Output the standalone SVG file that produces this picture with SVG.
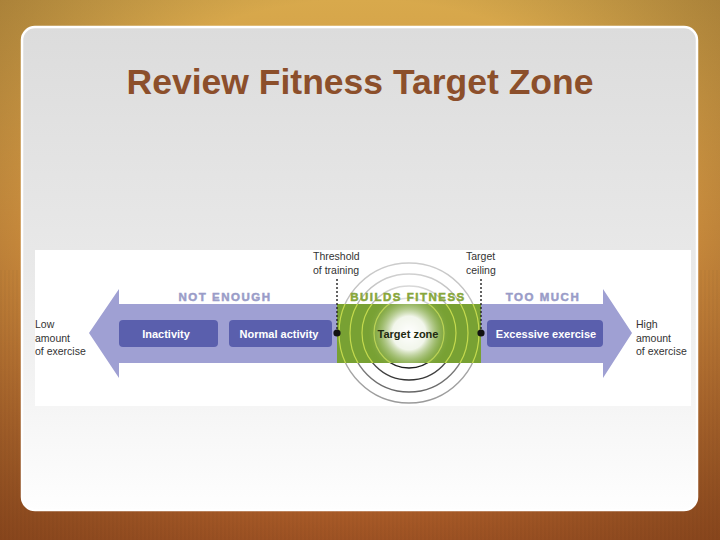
<svg xmlns="http://www.w3.org/2000/svg" width="720" height="540" viewBox="0 0 720 540">
<defs>
<linearGradient id="bg" x1="0" y1="0" x2="0" y2="1">
<stop offset="0" stop-color="#d8a94c"/>
<stop offset="0.45" stop-color="#c98a3c"/>
<stop offset="1" stop-color="#b05c28"/>
</linearGradient>
<radialGradient id="vig" cx="0.5" cy="0.45" r="0.75">
<stop offset="0.6" stop-color="#000" stop-opacity="0"/>
<stop offset="1" stop-color="#3a1a05" stop-opacity="0.35"/>
</radialGradient>
<pattern id="tex" width="4" height="4" patternUnits="userSpaceOnUse">
<rect width="2" height="4" fill="#000" opacity="0.025"/>
</pattern>
<linearGradient id="panel" x1="0" y1="0" x2="0" y2="1">
<stop offset="0" stop-color="#dcdcdc"/>
<stop offset="0.5" stop-color="#e9e9e9"/>
<stop offset="1" stop-color="#fefefe"/>
</linearGradient>
<radialGradient id="glow" cx="409" cy="333" r="42" gradientUnits="userSpaceOnUse">
<stop offset="0" stop-color="#ffffff"/>
<stop offset="0.4" stop-color="#ffffff" stop-opacity="0.9"/>
<stop offset="1" stop-color="#78a133" stop-opacity="0"/>
</radialGradient>
<linearGradient id="r1" x1="0" y1="0" x2="0" y2="1"><stop offset="0" stop-color="#e0e0e0"/><stop offset="1" stop-color="#1a1a1a"/></linearGradient>
<linearGradient id="r2" x1="0" y1="0" x2="0" y2="1"><stop offset="0" stop-color="#d8d8d8"/><stop offset="1" stop-color="#333"/></linearGradient>
<linearGradient id="r3" x1="0" y1="0" x2="0" y2="1"><stop offset="0" stop-color="#d0d0d0"/><stop offset="1" stop-color="#666"/></linearGradient>
<linearGradient id="r4" x1="0" y1="0" x2="0" y2="1"><stop offset="0" stop-color="#cccccc"/><stop offset="1" stop-color="#9a9a9a"/></linearGradient>
<clipPath id="greenclip"><rect x="337" y="304" width="144" height="59"/></clipPath>
<style>
.lbl{font-family:"Liberation Sans",Arial,sans-serif;font-size:10.5px;fill:#333}
.zone{font-family:"Liberation Sans",Arial,sans-serif;font-size:11.5px;font-weight:bold;letter-spacing:1.5px;text-anchor:middle;stroke-width:0.5px}
.box{fill:#5a5fad}
.boxt{font-family:"Liberation Sans",Arial,sans-serif;font-size:11px;font-weight:bold;fill:#fff;text-anchor:middle}
.ring{fill:none;stroke-width:1.4}
.gring{fill:none;stroke:#c4da4e;stroke-width:1.2}
.dot{fill:#111}
.dash{stroke:#222;stroke-width:1.4;stroke-dasharray:2 2;fill:none}
</style>
</defs>

<rect width="720" height="540" fill="url(#bg)"/>
<rect y="270" width="720" height="270" fill="url(#tex)"/>
<rect width="720" height="540" fill="url(#vig)"/>

<rect x="22" y="27" width="675" height="483" rx="13" fill="url(#panel)" stroke="#ffffff" stroke-width="2.5"/>
<text x="360" y="94" text-anchor="middle" font-family="Liberation Sans, Arial, sans-serif" font-size="35.5" font-weight="bold" fill="#8c4f2b">Review Fitness Target Zone</text>

<rect x="35" y="250" width="656" height="156" fill="#ffffff"/>

<g id="connectors">
<polygon id="axis-arrow" points="89,333 119,289 119,304 603,304 603,289 632,333 603,378 603,363 119,363 119,378" fill="#9fa0d3"/>
</g>

<g id="builds-fitness-zone">
<g id="rings">
<circle class="ring" cx="409" cy="333" r="35" stroke="url(#r1)"/>
<circle class="ring" cx="409" cy="333" r="47" stroke="url(#r2)"/>
<circle class="ring" cx="409" cy="333" r="59" stroke="url(#r3)"/>
<circle class="ring" cx="409" cy="333" r="70" stroke="url(#r4)"/>
</g>
<rect x="337" y="304" width="144" height="59" fill="#78a133"/>
<g clip-path="url(#greenclip)">
<circle class="gring" cx="409" cy="333" r="35"/>
<circle class="gring" cx="409" cy="333" r="47"/>
<circle class="gring" cx="409" cy="333" r="59"/>
<circle class="gring" cx="409" cy="333" r="70"/>
<rect x="337" y="304" width="144" height="59" fill="url(#glow)"/>
</g>
<text class="zone" x="408" y="301" fill="#87a63a" stroke="#87a63a">BUILDS FITNESS</text>
</g>

<g id="zone-labels">
<text class="zone" x="225" y="301" fill="#9a9cc8" stroke="#9a9cc8">NOT ENOUGH</text>
<text class="zone" x="543" y="301" fill="#9a9cc8" stroke="#9a9cc8">TOO MUCH</text>
</g>

<g id="inactivity">
<rect class="box" x="119" y="320" width="99" height="27" rx="4"/>
<text class="boxt" x="166" y="337.5">Inactivity</text>
</g>
<g id="normal-activity">
<rect class="box" x="229" y="320" width="103" height="27" rx="4"/>
<text class="boxt" x="279" y="337.5">Normal activity</text>
</g>
<g id="target-zone">
<text x="408" y="337.5" text-anchor="middle" font-family="Liberation Sans, Arial, sans-serif" font-size="11" font-weight="bold" fill="#1e2a10">Target zone</text>
</g>
<g id="excessive-exercise">
<rect class="box" x="487" y="320" width="116" height="27" rx="4"/>
<text class="boxt" x="546" y="337.5">Excessive exercise</text>
</g>

<g id="threshold">
<line class="dash" x1="337" y1="279" x2="337" y2="333"/>
<circle class="dot" cx="337" cy="333" r="3.6"/>
<text class="lbl" x="313" y="260">Threshold</text>
<text class="lbl" x="313" y="274">of training</text>
</g>
<g id="ceiling">
<line class="dash" x1="481" y1="279" x2="481" y2="333"/>
<circle class="dot" cx="481" cy="333" r="3.6"/>
<text class="lbl" x="466" y="260">Target</text>
<text class="lbl" x="466" y="274">ceiling</text>
</g>

<g id="low-end">
<text class="lbl" x="35" y="328">Low</text>
<text class="lbl" x="35" y="342">amount</text>
<text class="lbl" x="35" y="355">of exercise</text>
</g>
<g id="high-end">
<text class="lbl" x="636" y="328">High</text>
<text class="lbl" x="636" y="342">amount</text>
<text class="lbl" x="636" y="355">of exercise</text>
</g>
</svg>
